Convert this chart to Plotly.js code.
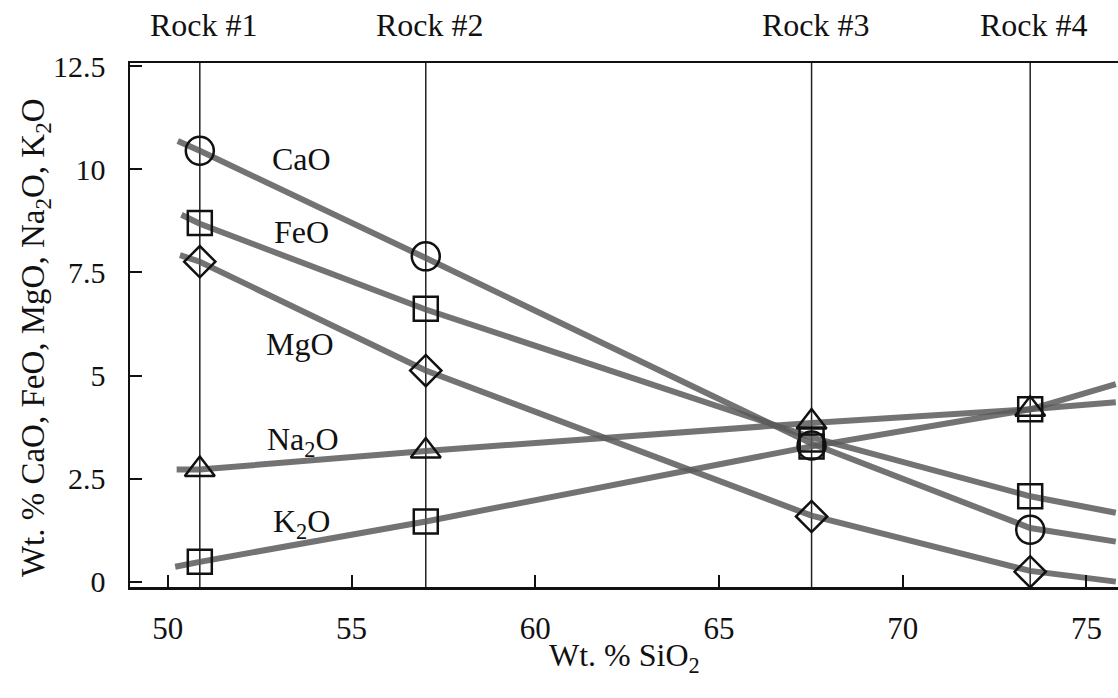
<!DOCTYPE html>
<html>
<head>
<meta charset="utf-8">
<script src="https://cdn.plot.ly/plotly-3.0.1.min.js"></script>
<style>
  html, body { margin: 0; padding: 0; background: #fff; }
  #chart { width: 1118px; height: 698px; }
</style>
</head>
<body>
<div id="chart"></div>
<script>
// ---- Data ----
const rockSiO2 = [50.87, 57.02, 67.52, 73.47];
const rockLabels = ['Rock #1', 'Rock #2', 'Rock #3', 'Rock #4'];

const cao  = [10.45, 7.89, 3.30, 1.26];
const feo  = [8.70, 6.62, 3.45, 2.07];
const mgo  = [7.76, 5.12, 1.58, 0.24];
const na2o = [2.72, 3.17, 3.87, 4.18];
const k2o  = [0.48, 1.46, 3.28, 4.18];

// Hand-drawn trend lines: start point, value at each rock, value at right edge
const trendStartX = { cao: 50.27, feo: 50.37, mgo: 50.33, na2o: 50.24, k2o: 50.2 };
const trendEndX = 75.8;
const caoTrend  = [10.69, 10.45, 7.85, 3.35, 1.30, 0.97];
const feoTrend  = [8.90, 8.68, 6.60, 3.50, 2.07, 1.67];
const mgoTrend  = [7.92, 7.76, 5.12, 1.60, 0.26, 0.00];
const na2oTrend = [2.72, 2.72, 3.17, 3.85, 4.18, 4.35];
const k2oTrend  = [0.36, 0.48, 1.46, 3.28, 4.18, 4.79];

const seriesNames = ['CaO', 'FeO', 'MgO', 'Na<sub>2</sub>O', 'K<sub>2</sub>O'];
const labelX = [53.64, 53.64, 53.59, 53.68, 53.64];
const labelY = [10.24, 8.49, 5.77, 3.41, 1.42];

const xTicks = [50, 55, 60, 65, 70, 75];
const yTicks = [0, 2.5, 5, 7.5, 10, 12.5];
const yTickText = ['0', '2.5', '5', '7.5', '10', '12.5'];

const xTitle = 'Wt. % SiO<sub>2</sub>';
const yTitle = 'Wt. % CaO, FeO, MgO, Na<sub>2</sub>O, K<sub>2</sub>O';

// ---- Build traces ----
const FONT = '"Liberation Serif", "Times New Roman", Times, serif';
const trendColor = 'rgba(90,90,90,0.85)';
function trendX(start) { return [start].concat(rockSiO2, [trendEndX]); }

const trends = [
  ['cao', caoTrend], ['feo', feoTrend], ['mgo', mgoTrend], ['na2o', na2oTrend], ['k2o', k2oTrend]
].map(([k, ys]) => ({
  x: trendX(trendStartX[k]), y: ys, mode: 'lines', type: 'scatter',
  line: { color: trendColor, width: 6 }, hoverinfo: 'skip', showlegend: false
}));

function markers(ys, symbol, size) {
  return {
    x: rockSiO2, y: ys, mode: 'markers', type: 'scatter', showlegend: false,
    marker: { symbol: symbol, size: size, color: '#111', line: { color: '#111', width: 2.5 } }
  };
}

const markerTraces = [
  markers(cao, 'circle-open', 28),
  markers(feo, 'square-open', 24),
  markers(mgo, 'diamond-open', 24),
  markers(na2o, 'triangle-up-open', 26),
  markers(k2o, 'square-open', 24)
];

const shapes = rockSiO2.map(x => ({
  type: 'line', xref: 'x', yref: 'paper', x0: x, x1: x, y0: 0, y1: 1,
  line: { color: '#222', width: 1.5 }, layer: 'below'
}));

const annotations = rockLabels.map((t, i) => ({
  text: t, x: rockSiO2[i], xref: 'x', y: 1, yref: 'paper', yshift: 38, xshift: 4,
  xanchor: 'center', yanchor: 'middle', showarrow: false,
  font: { family: FONT, size: 32, color: '#111' }
})).concat(seriesNames.map((t, i) => ({
  text: t, x: labelX[i], y: labelY[i], xref: 'x', yref: 'y',
  xanchor: 'center', yanchor: 'middle', showarrow: false,
  font: { family: FONT, size: 32, color: '#111' }
}))).concat([
  { text: xTitle, xref: 'paper', yref: 'paper', x: 0.5, y: 0, yshift: -70,
    xanchor: 'center', yanchor: 'middle', showarrow: false,
    font: { family: FONT, size: 32, color: '#111' } },
  { text: yTitle, xref: 'paper', yref: 'paper', x: 0, y: 0.475, xshift: -95,
    xanchor: 'center', yanchor: 'middle', showarrow: false, textangle: -90,
    font: { family: FONT, size: 33, color: '#111' } }
]);

const layout = {
  width: 1118, height: 698,
  margin: { l: 130, r: 0, t: 63, b: 111 },
  paper_bgcolor: '#fff', plot_bgcolor: '#fff',
  font: { family: FONT, color: '#111', size: 30 },
  showlegend: false,
  xaxis: {
    range: [48.97, 75.86], tickvals: xTicks, ticks: 'inside', ticklen: 12, tickwidth: 2,
    tickcolor: '#111', showline: true, linewidth: 2.5, linecolor: '#111', mirror: true,
    showgrid: false, zeroline: false, ticklabelstandoff: 12,
    tickfont: { family: FONT, size: 31, color: '#111' }
  },
  yaxis: {
    range: [-0.13, 12.58], tickvals: yTicks, ticktext: yTickText, ticks: 'inside', ticklen: 12, tickwidth: 2,
    tickcolor: '#111', showline: true, linewidth: 2.5, linecolor: '#111', mirror: false,
    showgrid: false, zeroline: false, ticklabelstandoff: 16,
    tickfont: { family: FONT, size: 30, color: '#111' }
  },
  shapes: shapes,
  annotations: annotations
};

Plotly.newPlot('chart', trends.concat(markerTraces), layout, { displayModeBar: false, staticPlot: true });
</script>
</body>
</html>
